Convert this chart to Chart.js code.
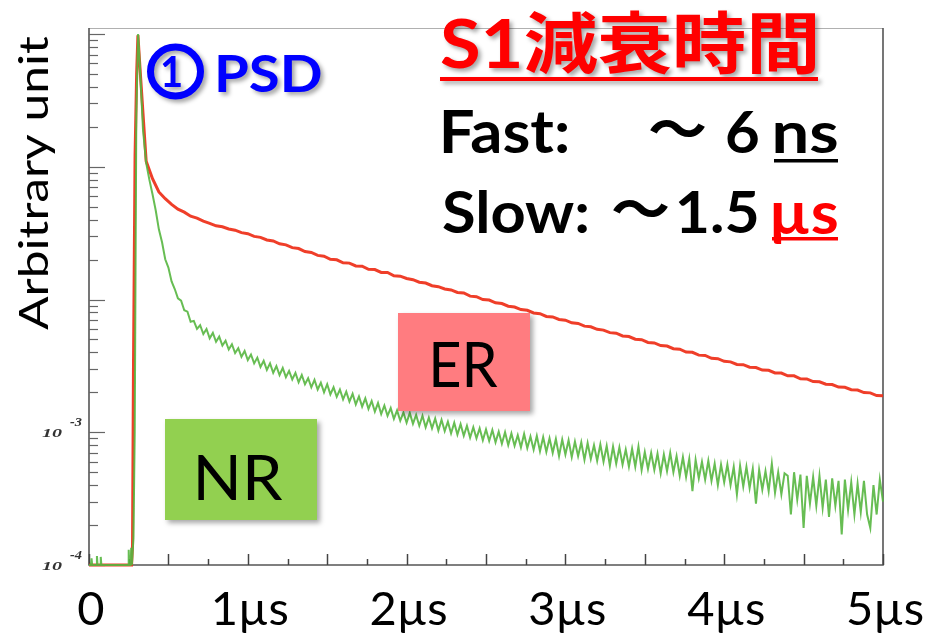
<!DOCTYPE html>
<html>
<head>
<meta charset="utf-8">
<script src="https://cdn.jsdelivr.net/npm/chart.js@4.4.1/dist/chart.umd.min.js"></script>
<style>
  html, body { margin: 0; padding: 0; background: #ffffff; overflow: hidden; }
  canvas { display: block; }
</style>
</head>
<body>
<canvas id="c" width="937" height="637"></canvas>
<script>
// ---- axis ticks and labels (time in µs, log-scaled intensity) ----
const xTickValues = [0, 1, 2, 3, 4, 5];
const xTickLabels = ["0", "1µs", "2µs", "3µs", "4µs", "5µs"];
const xMajorTicks = [0, 0.5, 1, 1.5, 2, 2.5, 3, 3.5, 4, 4.5, 5];
const xMinorTicks = [0.25, 0.75, 1.25, 1.75, 2.25, 2.75, 3.25, 3.75, 4.25, 4.75];
const yDecades = [1e-4, 1e-3, 1e-2, 1e-1, 1];
const yMinorSteps = [2, 3, 4, 5, 6, 7, 8, 9];
const yLabelValues = [1e-3, 1e-4];
const yLabelExponents = ["-3", "-4"];
const yTitle = "Arbitrary unit";

// ---- ER (electron recoil) waveform ----
// baseline and rising edge
const erLeadTimes  = [0.000, 0.268, 0.274, 0.280, 0.290, 0.300, 0.308];
const erLeadValues = [1.0e-4, 1.0e-4, 1.4e-4, 3.0e-3, 0.12, 0.50, 0.98];
// decay, sampled every 0.04 µs from 0.32 µs
const ER_SAMPLE_START = 0.32, ER_SAMPLE_STEP = 0.04;
const erValues = [
  0.58, 0.110, 0.0813, 0.0646, 0.0575, 0.0521, 0.0479, 0.0455, 0.0424, 0.0410,
  0.0389, 0.0375, 0.0359, 0.0353, 0.0340, 0.0333, 0.0319, 0.0313, 0.0299, 0.0294,
  0.0281, 0.0276, 0.0263, 0.0258, 0.0246, 0.0242, 0.0230, 0.0226, 0.0215, 0.0212,
  0.0201, 0.0199, 0.0189, 0.0188, 0.0179, 0.0178, 0.0169, 0.0168, 0.0160, 0.0160,
  0.0151, 0.0150, 0.0144, 0.0141, 0.0135, 0.0133, 0.0127, 0.0125, 0.0120, 0.0118,
  0.0113, 0.0112, 0.0106, 0.0105, 0.0100, 0.00990, 0.00944, 0.00932, 0.00890, 0.00878,
  0.00840, 0.00829, 0.00792, 0.00782, 0.00746, 0.00739, 0.00707, 0.00698, 0.00667, 0.00660,
  0.00630, 0.00623, 0.00596, 0.00588, 0.00563, 0.00557, 0.00531, 0.00526, 0.00502, 0.00498,
  0.00475, 0.00471, 0.00450, 0.00446, 0.00426, 0.00422, 0.00402, 0.00400, 0.00381, 0.00379,
  0.00361, 0.00358, 0.00342, 0.00339, 0.00324, 0.00323, 0.00309, 0.00307, 0.00294, 0.00293,
  0.00280, 0.00279, 0.00266, 0.00266, 0.00253, 0.00252, 0.00241, 0.00240, 0.00230, 0.00229,
  0.00219, 0.00218, 0.00209, 0.00208, 0.00199, 0.00198, 0.00189, 0.00188
];

// ---- NR (nuclear recoil) waveform ----
const nrLeadTimes  = [0.000, 0.012, 0.016, 0.020, 0.046, 0.050, 0.054, 0.070, 0.074, 0.078,
                      0.246, 0.250, 0.254, 0.262, 0.266, 0.270, 0.280, 0.288, 0.298, 0.309];
const nrLeadValues = [1.0e-4, 1.0e-4, 1.12e-4, 1.0e-4, 1.0e-4, 1.17e-4, 1.0e-4, 1.0e-4, 1.15e-4, 1.0e-4,
                      1.0e-4, 1.3e-4, 1.0e-4, 1.0e-4, 1.35e-4, 1.0e-4, 1.6e-4, 1.0e-3, 0.25, 1.0];
// decay, sampled every 0.02 µs from 0.32 µs
const NR_SAMPLE_START = 0.32, NR_SAMPLE_STEP = 0.02;
const nrValues = [
  0.60, 0.19, 0.107, 0.080, 0.062, 0.047, 0.0338, 0.0270, 0.0201, 0.0174,
  0.0137, 0.0120, 0.0102, 0.0098, 0.0083, 0.0081, 0.0068, 0.0069, 0.0060, 0.0064,
  5.5e-3, 6.0e-3, 5.1e-3, 5.6e-3, 4.8e-3, 5.25e-3, 4.5e-3, 4.9e-3, 4.2e-3, 4.6e-3,
  3.95e-3, 4.3e-3, 3.7e-3, 4.1e-3, 3.5e-3, 3.85e-3, 3.3e-3, 3.65e-3, 3.1e-3, 3.45e-3,
  2.95e-3, 3.3e-3, 2.8e-3, 3.15e-3, 2.7e-3, 3.05e-3, 2.6e-3, 2.9e-3, 2.5e-3, 2.8e-3,
  2.38e-3, 2.7e-3, 2.3e-3, 2.55e-3, 2.18e-3, 2.48e-3, 2.1e-3, 2.36e-3, 2.0e-3, 2.3e-3,
  1.93e-3, 2.18e-3, 1.85e-3, 2.1e-3, 1.77e-3, 2.02e-3, 1.7e-3, 1.95e-3, 1.62e-3, 1.86e-3,
  1.56e-3, 1.80e-3, 1.5e-3, 1.72e-3, 1.43e-3, 1.66e-3, 1.37e-3, 1.59e-3, 1.33e-3, 1.52e-3,
  1.26e-3, 1.46e-3, 1.22e-3, 1.41e-3, 1.18e-3, 1.40e-3, 1.16e-3, 1.35e-3, 1.12e-3, 1.33e-3,
  1.09e-3, 1.29e-3, 1.07e-3, 1.27e-3, 1.03e-3, 1.24e-3, 1.02e-3, 1.20e-3, 0.98e-3, 1.18e-3,
  0.96e-3, 1.15e-3, 0.94e-3, 1.12e-3, 0.91e-3, 1.09e-3, 0.90e-3, 1.07e-3, 0.87e-3, 1.05e-3,
  0.86e-3, 1.04e-3, 0.84e-3, 1.01e-3, 0.82e-3, 1.00e-3, 0.80e-3, 0.98e-3, 0.79e-3, 0.95e-3,
  0.77e-3, 0.97e-3, 0.76e-3, 0.93e-3, 0.74e-3, 0.94e-3, 0.72e-3, 0.92e-3, 0.71e-3, 0.90e-3,
  0.70e-3, 0.89e-3, 0.66e-3, 0.88e-3, 0.68e-3, 0.87e-3, 0.65e-3, 0.85e-3, 0.66e-3, 0.84e-3,
  0.62e-3, 0.83e-3, 0.63e-3, 0.80e-3, 0.61e-3, 0.81e-3, 0.60e-3, 0.79e-3, 0.56e-3, 0.78e-3,
  0.58e-3, 0.77e-3, 0.57e-3, 0.74e-3, 0.55e-3, 0.75e-3, 0.55e-3, 0.78e-3, 0.52e-3, 0.71e-3,
  0.53e-3, 0.70e-3, 0.52e-3, 0.69e-3, 0.49e-3, 0.68e-3, 0.51e-3, 0.70e-3, 0.50e-3, 0.66e-3,
  0.47e-3, 0.65e-3, 0.46e-3, 0.63e-3, 0.36e-3, 0.62e-3, 0.45e-3, 0.60e-3, 0.44e-3, 0.61e-3,
  0.43e-3, 0.58e-3, 0.40e-3, 0.57e-3, 0.42e-3, 0.57e-3, 0.40e-3, 0.55e-3, 0.34e-3, 0.56e-3,
  0.39e-3, 0.55e-3, 0.38e-3, 0.53e-3, 0.29e-3, 0.52e-3, 0.37e-3, 0.51e-3, 0.36e-3, 0.58e-3,
  0.35e-3, 0.50e-3, 0.34e-3, 0.49e-3, 0.47e-3, 0.24e-3, 0.50e-3, 0.31e-3, 0.48e-3, 0.19e-3,
  0.47e-3, 0.29e-3, 0.46e-3, 0.28e-3, 0.47e-3, 0.27e-3, 0.44e-3, 0.23e-3, 0.45e-3, 0.28e-3,
  0.43e-3, 0.17e-3, 0.44e-3, 0.26e-3, 0.42e-3, 0.24e-3, 0.41e-3, 0.25e-3, 0.43e-3, 0.24e-3,
  0.19e-3, 0.40e-3, 0.24e-3, 0.44e-3, 0.30e-3
];

// ---- annotation texts ----
const titleText = "S1減衰時間";
const psdNumber = "1";
const psdText = "PSD";
const fastLabel = "Fast:", fastTilde = "～", fastValue = "6", fastUnit = "ns";
const slowLabel = "Slow:", slowTilde = "～", slowValue = "1.5", slowUnit = "µs";
const erBoxText = "ER", nrBoxText = "NR";

// ---- build point lists for the library ----
function toPoints(leadTimes, leadValues, start, step, values) {
  const pts = leadTimes.map((t, i) => ({ x: t, y: leadValues[i] }));
  values.forEach((v, i) => pts.push({ x: +(start + i * step).toFixed(3), y: v }));
  return pts;
}
const erPoints = toPoints(erLeadTimes, erLeadValues, ER_SAMPLE_START, ER_SAMPLE_STEP, erValues);
const nrPoints = toPoints(nrLeadTimes, nrLeadValues, NR_SAMPLE_START, NR_SAMPLE_STEP, nrValues);

// draw text so its ink fills the given box
function inkText(ctx, text, box, font, color) {
  ctx.save();
  ctx.font = font;
  ctx.textAlign = 'left';
  ctx.textBaseline = 'alphabetic';
  const m = ctx.measureText(text);
  const inkW = m.actualBoundingBoxLeft + m.actualBoundingBoxRight;
  const inkH = m.actualBoundingBoxAscent + m.actualBoundingBoxDescent;
  const sx = (box.r - box.l) / inkW;
  const sy = (box.b - box.t) / inkH;
  ctx.translate(box.l + m.actualBoundingBoxLeft * sx, box.t + m.actualBoundingBoxAscent * sy);
  ctx.scale(sx, sy);
  ctx.fillStyle = color;
  ctx.fillText(text, 0, 0);
  ctx.restore();
}

const shadow = (ctx, alpha, blur, off) => {
  ctx.shadowColor = `rgba(0,0,0,${alpha})`;
  ctx.shadowBlur = blur;
  ctx.shadowOffsetX = off;
  ctx.shadowOffsetY = off;
};

const frameAndTicks = {
  id: 'frameAndTicks',
  beforeDatasetsDraw(chart) {
    const { ctx, chartArea: a, scales: { x, y } } = chart;
    ctx.save();
    // frame
    ctx.lineWidth = 1;
    ctx.strokeStyle = '#b0b0b0';
    ctx.beginPath(); ctx.moveTo(a.left, a.top + 0.5); ctx.lineTo(a.right, a.top + 0.5); ctx.stroke();
    ctx.lineWidth = 1.6;
    ctx.strokeStyle = '#555555';
    ctx.beginPath();
    ctx.moveTo(a.left, a.top); ctx.lineTo(a.left, a.bottom); ctx.lineTo(a.right, a.bottom); ctx.lineTo(a.right, a.top);
    ctx.stroke();
    // y ticks on log scale
    const yTick = (v, len) => {
      const py = Math.round(y.getPixelForValue(v)) + 0.5;
      ctx.beginPath(); ctx.moveTo(a.left, py); ctx.lineTo(a.left + len, py); ctx.stroke();
    };
    ctx.lineWidth = 1.2;
    ctx.strokeStyle = '#666666';
    yDecades.forEach(d => {
      yTick(d, 16);
      yMinorSteps.forEach(s => { if (d * s <= y.max) yTick(d * s, 9); });
    });
    // x ticks
    const xTick = (v, len) => {
      const px = Math.round(x.getPixelForValue(v)) + 0.5;
      ctx.beginPath(); ctx.moveTo(px, a.bottom); ctx.lineTo(px, a.bottom - len); ctx.stroke();
    };
    ctx.lineWidth = 1.5;
    ctx.strokeStyle = '#444444';
    xMajorTicks.forEach(v => xTick(v, 11));
    xMinorTicks.forEach(v => xTick(v, 6));
    ctx.restore();
  },
  afterDraw(chart) {
    const { ctx, chartArea: a, scales: { x, y } } = chart;
    ctx.save();
    // x tick labels
    ctx.fillStyle = '#000000';
    ctx.font = '47px Lato';
    ctx.textAlign = 'center';
    ctx.textBaseline = 'alphabetic';
    xTickValues.forEach((v, i) => {
      ctx.fillText(xTickLabels[i], x.getPixelForValue(v) + 2, 625);
    });
    // y decade labels: 10 with superscript exponent
    yLabelValues.forEach((v, i) => {
      const py = y.getPixelForValue(v);
      inkText(ctx, '10', { l: 42, r: 62, t: py - 4, b: py + 5 }, 'italic bold 16px "Liberation Serif"', '#333333');
      inkText(ctx, yLabelExponents[i], { l: 70, r: 82, t: py - 14, b: py - 6 }, 'italic bold 12px "Liberation Serif"', '#333333');
    });
    // y axis title, rotated
    ctx.save();
    ctx.rotate(-Math.PI / 2);
    // in rotated coordinates: horizontal = -screenY, vertical = screenX
    inkText(ctx, yTitle, { l: -330, r: -36, t: 18, b: 55 }, '44px Lato', '#000000');
    ctx.restore();

    // NR and ER labels on coloured boxes
    ctx.save();
    shadow(ctx, 0.35, 5, 3);
    ctx.fillStyle = '#ff7c80';
    ctx.fillRect(398, 313, 132, 98);
    ctx.fillStyle = '#92d050';
    ctx.fillRect(165, 419, 152, 101);
    ctx.restore();
    inkText(ctx, erBoxText, { l: 433, r: 498, t: 343, b: 387 }, '60px Lato', '#000000');
    inkText(ctx, nrBoxText, { l: 198, r: 283, t: 455, b: 500 }, '60px Lato', '#000000');

    // title with underline
    ctx.save();
    shadow(ctx, 0.35, 4, 3);
    inkText(ctx, titleText, { l: 441, r: 815, t: 10, b: 75 }, 'bold 70px Lato, "Noto Sans CJK JP"', '#ff0000');
    ctx.fillStyle = '#ff0000';
    ctx.fillRect(440, 77, 378, 4);
    ctx.restore();

    // circled 1 and PSD
    ctx.save();
    shadow(ctx, 0.35, 4, 3);
    ctx.strokeStyle = '#0000ff';
    ctx.lineWidth = 7;
    ctx.beginPath();
    ctx.ellipse(175.5, 71.5, 25, 24.5, 0, 0, Math.PI * 2);
    ctx.stroke();
    inkText(ctx, psdNumber, { l: 162, r: 181, t: 56, b: 87 }, 'bold 40px Lato', '#0000ff');
    inkText(ctx, psdText, { l: 218, r: 321, t: 55, b: 92 }, 'bold 56px Lato', '#0000ff');
    ctx.restore();

    // decay constants
    const bf = 'bold 58px Lato';
    const cjk = 'bold 58px "Noto Sans CJK JP"';
    inkText(ctx, fastLabel, { l: 443, r: 567, t: 110, b: 153 }, bf, '#000000');
    inkText(ctx, fastTilde, { l: 650, r: 705, t: 120, b: 137 }, cjk, '#000000');
    inkText(ctx, fastValue, { l: 727, r: 758, t: 112, b: 153 }, bf, '#000000');
    inkText(ctx, fastUnit, { l: 775, r: 837, t: 123, b: 153 }, bf, '#000000');
    ctx.fillStyle = '#000000';
    ctx.fillRect(774, 159, 64, 3.5);

    inkText(ctx, slowLabel, { l: 443, r: 587, t: 190, b: 233 }, bf, '#000000');
    inkText(ctx, slowTilde, { l: 613, r: 668, t: 200, b: 217 }, cjk, '#000000');
    inkText(ctx, slowValue, { l: 678, r: 757, t: 192, b: 233 }, bf, '#000000');
    inkText(ctx, slowUnit, { l: 773, r: 837, t: 203, b: 244 }, bf, '#ff0000');
    ctx.fillStyle = '#ff0000';
    ctx.fillRect(772, 237, 66, 3.5);
    ctx.restore();
  }
};

new Chart(document.getElementById('c'), {
  type: 'line',
  data: {
    datasets: [
      {
        label: 'NR',
        data: nrPoints,
        borderColor: 'rgba(86,182,64,0.9)',
        borderWidth: 2,
        pointRadius: 0,
        tension: 0,
        order: 0,
        clip: { left: 2, top: 2, right: 1, bottom: 3 }
      },
      {
        label: 'ER',
        data: erPoints,
        borderColor: 'rgba(238,52,30,0.95)',
        borderWidth: 3,
        pointRadius: 0,
        tension: 0,
        order: 1,
        clip: { left: 2, top: 2, right: 1, bottom: 3 }
      }
    ]
  },
  options: {
    responsive: false,
    devicePixelRatio: 1,
    animation: false,
    events: [],
    layout: { padding: { left: 89, right: 54, top: 28, bottom: 72 } },
    scales: {
      x: { type: 'linear', min: 0, max: 5, display: false },
      y: { type: 'logarithmic', min: 1e-4, max: 1.11, display: false }
    },
    plugins: { legend: { display: false }, tooltip: { enabled: false } }
  },
  plugins: [frameAndTicks]
});
</script>
</body>
</html>
